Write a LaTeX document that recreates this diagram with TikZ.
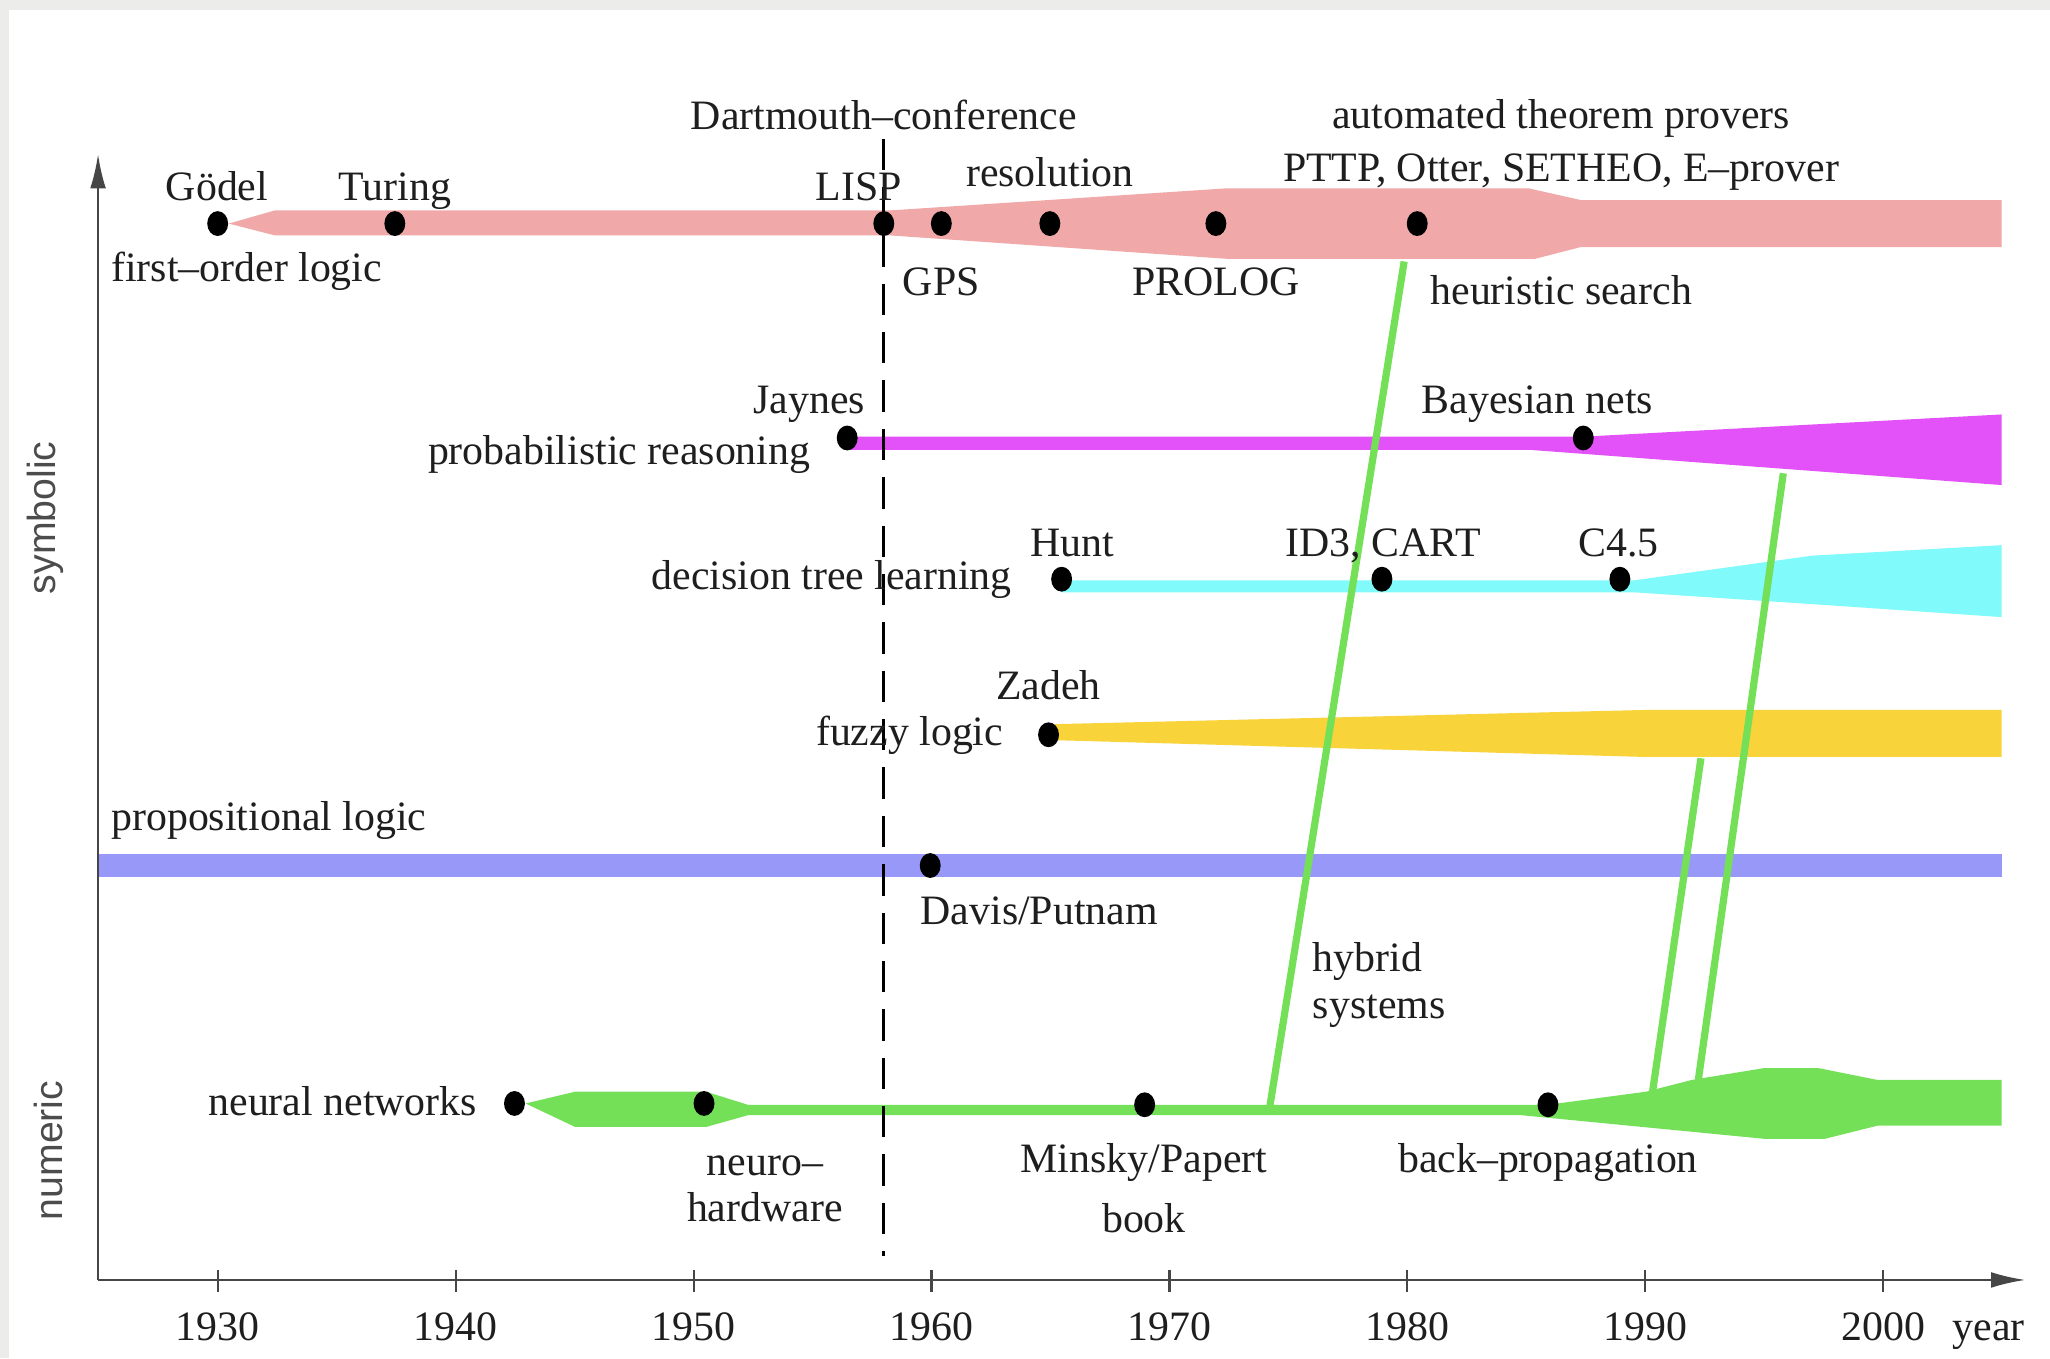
\documentclass[tikz,border=0pt]{standalone}
\usepackage{fontspec}
\setmainfont{Liberation Serif}
\setsansfont{Liberation Sans}
\usetikzlibrary{arrows.meta,shapes.geometric,calc}
\definecolor{fol}{RGB}{240,168,168}
\definecolor{prob}{RGB}{226,82,248}
\definecolor{dtl}{RGB}{128,250,250}
\definecolor{fuzzy}{RGB}{248,212,58}
\definecolor{prop}{RGB}{152,152,248}
\definecolor{nn}{RGB}{115,224,88}
\definecolor{bggray}{RGB}{236,236,234}
\definecolor{axisc}{RGB}{70,70,70}
\definecolor{txt}{RGB}{30,30,30}
\begin{document}
\begin{tikzpicture}[x=1pt,y=-1pt,
  font=\fontsize{32}{38}\selectfont,
  dot/.style={ellipse,fill=black,inner sep=0pt,minimum width=16pt,minimum height=19pt},
  lbl/.style={inner sep=0pt,text=txt},
  side/.style={inner sep=0pt,text=black!70,font=\sffamily\fontsize{30}{36}\selectfont,rotate=90},
  hyb/.style={draw=nn,line width=5.5pt},
  axisline/.style={draw=axisc,line width=1.6pt},
  dashline/.style={draw=black,line width=2.5pt,dash pattern=on 24pt off 13pt},
  tick/.style={draw=axisc,line width=1.6pt}
]
\useasboundingbox (0,0) rectangle (1568,1039);
\fill[bggray] (0,0) rectangle (1568,1039);
\fill[white] (7,8) rectangle (1568,1039);

% bands
\fill[fol] (175,171) -- (210,161) -- (680,161) -- (939,144) -- (1169,144) -- (1209,153) -- (1531,153)
  -- (1531,189) -- (1209,189) -- (1174,198) -- (939,198) -- (680,180) -- (210,180) -- cycle;
\fill[prob] (648,334) -- (1211,334) -- (1531,317) -- (1531,371) -- (1169,344) -- (648,344) -- cycle;
\fill[dtl] (812,444) -- (1249,444) -- (1386,425) -- (1531,417) -- (1531,472) -- (1400,463) -- (1249,453) -- (812,453) -- cycle;
\fill[fuzzy] (802,554) -- (1259,543) -- (1531,543) -- (1531,579) -- (1259,579) -- (802,566) -- cycle;
\fill[prop] (75,653) rectangle (1531,671);
\fill[nn] (402,844) -- (440,835) -- (540,835) -- (572,845) -- (1184,845) -- (1259,835) -- (1294,826)
  -- (1349,817) -- (1391,817) -- (1436,826) -- (1531,826) -- (1531,861) -- (1436,861) -- (1396,871)
  -- (1349,871) -- (1164,853) -- (572,853) -- (540,862) -- (440,862) -- cycle;

% hybrid systems connectors
\coordinate (h1a) at (1074,200); \coordinate (h1b) at (971,848);
\coordinate (h2a) at (1364,362); \coordinate (h2b) at (1299,826);
\coordinate (h3a) at (1301,580); \coordinate (h3b) at (1264,835);
\draw[hyb] (h1a) -- (h1b);
\draw[hyb] (h2a) -- (h2b);
\draw[hyb] (h3a) -- (h3b);

% axes
\coordinate (origin) at (75,979);
\coordinate (ytop) at (75,118);
\coordinate (xend) at (1549,979);
\draw[axisline,-{Latex[length=26pt,width=12pt]}] (origin) -- (ytop);
\draw[axisline,-{Latex[length=26pt,width=12pt]}] (origin) -- (xend);
\foreach \k/\yr in {0/1930,1/1940,2/1950,3/1960,4/1970,5/1980,6/1990,7/2000}{
  \coordinate (tk\k) at ({166.5+182*\k},979);
  \draw[tick] ($(tk\k)+(0,-8)$) -- ($(tk\k)+(0,9)$);
  \node[lbl,anchor=base] (yl\k) at ({166.5+182*\k},1025) {\yr};
}
\node[lbl,anchor=base] (year) at (1521,1025) {year};

% Dartmouth dashed line
\coordinate (dtop) at (676,106); \coordinate (dbot) at (676,961);
\draw[dashline] (dtop) -- (dbot);

% dots
\node[dot] (goedel) at (166.5,171) {};
\node[dot] (turing) at (302,171) {};
\node[dot] (lisp) at (676,171) {};
\node[dot] (gps) at (720,171) {};
\node[dot] (resol) at (803,171) {};
\node[dot] (prolog) at (930,171) {};
\node[dot] (heur) at (1084,171) {};
\node[dot] (jaynes) at (648,335) {};
\node[dot] (bayes) at (1211,335) {};
\node[dot] (hunt) at (812,443) {};
\node[dot] (id3) at (1057,443) {};
\node[dot] (c45) at (1239,443) {};
\node[dot] (zadeh) at (802,562) {};
\node[dot] (davis) at (711.5,662) {};
\node[dot] (nnstart) at (393.5,844) {};
\node[dot] (neuro) at (538.5,844) {};
\node[dot] (minsky) at (875.5,845) {};
\node[dot] (backprop) at (1184,845) {};

% labels
\node[lbl,anchor=base] (tdart) at (676,99) {Dartmouth–conference};
\node[lbl,anchor=base] (tatp) at (1194,98) {automated theorem provers};
\node[lbl,anchor=base] (tpttp) at (1194,139) {PTTP, Otter, SETHEO, E–prover};
\node[lbl,anchor=base] (tgoedel) at (166,153) {Gödel};
\node[lbl,anchor=base] (tturing) at (302,153) {Turing};
\node[lbl,anchor=base] (tlisp) at (657,153) {LISP};
\node[lbl,anchor=base] (tresol) at (803,143) {resolution};
\node[lbl,anchor=base west] (tfol) at (85,215) {first–order logic};
\node[lbl,anchor=base] (tgps) at (720,226) {GPS};
\node[lbl,anchor=base] (tprolog) at (930,226) {PROLOG};
\node[lbl,anchor=base west] (theur) at (1094,233) {heuristic search};
\node[lbl,anchor=base east] (tjaynes) at (662,316) {Jaynes};
\node[lbl,anchor=base east] (tprob) at (620,355) {probabilistic reasoning};
\node[lbl,anchor=base] (tbayes) at (1176,316) {Bayesian nets};
\node[lbl,anchor=base] (thunt) at (820,426) {Hunt};
\node[lbl,anchor=base] (tid3) at (1058,426) {ID3, CART};
\node[lbl,anchor=base] (tc45) at (1238,426) {C4.5};
\node[lbl,anchor=base east] (tdtl) at (774,451) {decision tree learning};
\node[lbl,anchor=base] (tzadeh) at (802,535) {Zadeh};
\node[lbl,anchor=base west] (tfuzzy) at (624,570) {fuzzy logic};
\node[lbl,anchor=base west] (tprop) at (85,635) {propositional logic};
\node[lbl,anchor=base west] (tdavis) at (704,707) {Davis/Putnam};
\node[lbl,anchor=base west] (thyb1) at (1004,743) {hybrid};
\node[lbl,anchor=base west] (thyb2) at (1004,779) {systems};
\node[lbl,anchor=base east] (tnn) at (365,853) {neural networks};
\node[lbl,anchor=base] (tneuro1) at (585,899) {neuro–};
\node[lbl,anchor=base] (tneuro2) at (585,934) {hardware};
\node[lbl,anchor=base] (tminsky1) at (875,897) {Minsky/Papert};
\node[lbl,anchor=base] (tminsky2) at (875,943) {book};
\node[lbl,anchor=base] (tbp) at (1184,897) {back–propagation};

\node[side] (tsym) at (35,396) {symbolic};
\node[side] (tnum) at (37,880) {numeric};
\end{tikzpicture}
\end{document}
